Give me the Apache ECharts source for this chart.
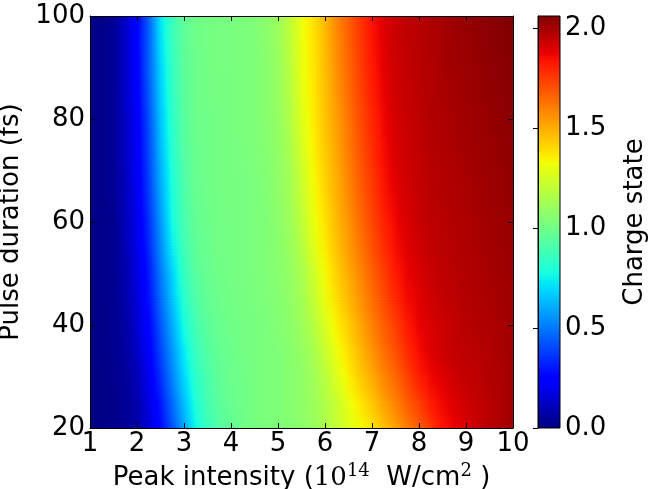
<!DOCTYPE html>
<html><head><meta charset="utf-8">
<script src="https://cdn.jsdelivr.net/npm/echarts@6/dist/echarts.min.js"></script>
<style>html,body{margin:0;padding:0;background:#fff}#c{width:649px;height:489px}</style>
</head><body><div id="c"></div>
<script>
// ---- data ----
const intensity = [1,1.25,1.5,1.75,2,2.25,2.5,2.75,3,3.25,3.5,3.75,4,4.25,4.5,4.75,5,5.25,5.5,5.75,6,6.25,6.5,6.75,7,7.25,7.5,7.75,8,8.25,8.5,8.75,9,9.25,9.5,9.75,10];
const durations = [20,25,30,35,40,50,60,70,80,90,100];
const q20  = [0.00,0.01,0.02,0.04,0.07,0.15,0.27,0.42,0.59,0.76,0.86,0.93,0.97,1.00,1.02,1.03,1.04,1.05,1.07,1.10,1.15,1.21,1.27,1.32,1.37,1.45,1.52,1.60,1.67,1.75,1.83,1.87,1.90,1.93,1.96,1.98,2.00];
const q25  = [0.005,0.01,0.02,0.04,0.08,0.17,0.30,0.47,0.64,0.80,0.89,0.95,0.98,1.00,1.02,1.03,1.04,1.06,1.08,1.11,1.16,1.22,1.30,1.37,1.44,1.52,1.59,1.67,1.74,1.82,1.86,1.89,1.92,1.94,1.96,1.98,2.00];
const q30  = [0.005,0.01,0.02,0.05,0.10,0.20,0.35,0.52,0.69,0.83,0.91,0.96,0.99,1.00,1.02,1.03,1.04,1.06,1.08,1.12,1.18,1.27,1.35,1.43,1.50,1.58,1.65,1.73,1.81,1.86,1.89,1.92,1.94,1.95,1.97,1.98,2.00];
const q35  = [0.01,0.015,0.025,0.055,0.12,0.23,0.39,0.56,0.73,0.86,0.93,0.97,0.99,1.01,1.02,1.03,1.04,1.06,1.09,1.14,1.22,1.31,1.39,1.47,1.55,1.63,1.70,1.78,1.85,1.89,1.92,1.94,1.95,1.96,1.97,1.99,2.00];
const q40  = [0.01,0.015,0.03,0.06,0.14,0.25,0.43,0.60,0.78,0.89,0.95,0.98,1.00,1.01,1.02,1.03,1.05,1.07,1.11,1.17,1.26,1.35,1.43,1.51,1.59,1.67,1.74,1.82,1.87,1.90,1.92,1.94,1.96,1.97,1.98,1.99,2.00];
const q50  = [0.01,0.02,0.03,0.08,0.17,0.30,0.50,0.68,0.85,0.94,0.98,1.00,1.01,1.02,1.03,1.04,1.06,1.09,1.14,1.23,1.33,1.42,1.50,1.58,1.66,1.74,1.82,1.87,1.90,1.93,1.95,1.96,1.97,1.98,1.99,2.00,2.01];
const q60  = [0.01,0.02,0.03,0.10,0.19,0.35,0.56,0.77,0.90,0.97,0.99,1.01,1.01,1.02,1.03,1.04,1.07,1.11,1.19,1.30,1.38,1.47,1.55,1.64,1.72,1.80,1.86,1.90,1.93,1.95,1.96,1.97,1.98,1.99,2.00,2.01,2.02];
const q70  = [0.01,0.02,0.04,0.11,0.21,0.39,0.61,0.80,0.92,0.98,1.00,1.01,1.02,1.02,1.03,1.05,1.08,1.13,1.23,1.33,1.42,1.50,1.59,1.68,1.76,1.84,1.89,1.92,1.94,1.96,1.97,1.98,1.99,2.00,2.01,2.02,2.03];
const q80  = [0.01,0.02,0.04,0.12,0.22,0.41,0.65,0.83,0.94,0.99,1.00,1.01,1.02,1.03,1.04,1.06,1.09,1.16,1.27,1.36,1.45,1.53,1.62,1.71,1.79,1.86,1.91,1.93,1.95,1.97,1.98,1.99,2.00,2.01,2.02,2.03,2.04];
const q90  = [0.01,0.02,0.04,0.13,0.24,0.45,0.68,0.85,0.95,0.99,1.01,1.02,1.02,1.03,1.04,1.06,1.10,1.18,1.30,1.37,1.46,1.56,1.65,1.74,1.82,1.88,1.92,1.94,1.96,1.97,1.99,2.00,2.01,2.02,2.03,2.04,2.05];
const q100 = [0.01,0.02,0.04,0.13,0.25,0.45,0.72,0.87,0.96,1.00,1.01,1.02,1.02,1.03,1.04,1.07,1.11,1.20,1.31,1.38,1.47,1.58,1.67,1.76,1.84,1.89,1.93,1.95,1.96,1.98,1.99,2.01,2.02,2.03,2.04,2.05,2.06];
const chargeRows = [q20,q25,q30,q35,q40,q50,q60,q70,q80,q90,q100];
const xTicks = [1,2,3,4,5,6,7,8,9,10];
const yTicks = [20,40,60,80,100];
const cbTicks = [0,0.5,1.0,1.5,2.0];
const cbRange = [0, 2.06];

// ---- jet colormap ----
const R=[[0,0],[0.35,0],[0.66,1],[0.89,1],[1,0.5]];
const G=[[0,0],[0.125,0],[0.375,1],[0.64,1],[0.91,0],[1,0]];
const B=[[0,0.5],[0.11,1],[0.34,1],[0.65,0],[1,0]];
function interp(p,f){for(let i=1;i<p.length;i++){if(f<=p[i][0]){const a=p[i-1],b=p[i];return a[1]+(b[1]-a[1])*(f-a[0])/(b[0]-a[0]);}}return p[p.length-1][1];}
function jetF(f){f=Math.max(0,Math.min(1,f));return 'rgb('+[R,G,B].map(p=>Math.round(255*interp(p,f))).join(',')+')';}
const cmin = cbRange[0], cmax = cbRange[1];
const breaks = [0.11,0.125,0.34,0.35,0.375,0.64,0.65,0.66,0.89,0.91];

// horizontal gradient for one row of read values, positioned via the x axis scale
function rowGradient(api,row){
  const xa=api.coord([intensity[0],20])[0], xb=api.coord([intensity[intensity.length-1],20])[0];
  const stops=[];
  for(let k=0;k<intensity.length;k++){
    const ok=(api.coord([intensity[k],20])[0]-xa)/(xb-xa);
    const fk=(row[k]-cmin)/(cmax-cmin);
    stops.push({offset:ok,color:jetF(fk)});
    if(k<intensity.length-1){
      const on=(api.coord([intensity[k+1],20])[0]-xa)/(xb-xa);
      const fn=(row[k+1]-cmin)/(cmax-cmin);
      breaks.filter(b=>(b-fk)*(b-fn)<0).sort((a,b)=>(a-b)*(fn-fk)).forEach(b=>{
        stops.push({offset:ok+(on-ok)*(b-fk)/(fn-fk),color:jetF(b)});
      });
    }
  }
  return new echarts.graphic.LinearGradient(0,0,1,0,stops);
}

// one band between two neighbouring read rows
const bands=[];
for(let i=0;i<durations.length-1;i++) bands.push([intensity[0],intensity[intensity.length-1],durations[i],durations[i+1],i]);

function renderBand(params, api){
  const x0=api.value(0),x1=api.value(1),lo=api.value(2),hi=api.value(3),ri=api.value(4);
  const pTop=api.coord([x0,hi]), pBot=api.coord([x1,lo]);
  const w=pBot[0]-pTop[0], h=pBot[1]-pTop[1];
  const gLo=rowGradient(api,chargeRows[ri]), gHi=rowGradient(api,chargeRows[ri+1]);
  const children=[{type:'rect',shape:{x:pTop[0],y:pTop[1]-0.5,width:w,height:h+1},style:{fill:gLo}}];
  const n=Math.max(2,Math.ceil(h/1.5));
  for(let j=0;j<n;j++){
    const y=pTop[1]+h*j/n;
    const t=1-(j+0.5)/n; // weight of upper row
    children.push({type:'rect',shape:{x:pTop[0],y:y,width:w,height:h/n+0.5},style:{fill:gHi,opacity:t}});
  }
  return {type:'group',silent:true,children:children};
}
function renderBar(params, api){
  const p0=api.coord([api.value(0),api.value(3)]), p1=api.coord([api.value(1),api.value(2)]);
  const pts=[0,0.11,0.125,0.34,0.35,0.375,0.64,0.65,0.66,0.89,0.91,1];
  const stops=pts.map(f=>({offset:f,color:jetF(f)}));
  return {type:'rect',silent:true,
    shape:{x:p0[0],y:p0[1],width:p1[0]-p0[0],height:p1[1]-p0[1]},
    style:{fill:new echarts.graphic.LinearGradient(0,1,0,0,stops),stroke:'#000',lineWidth:1}};
}

const FONT='DejaVu Sans';
const axisCommon={axisLine:{show:true,lineStyle:{color:'#000',width:1}},
  axisTick:{show:true,inside:true,length:5,lineStyle:{color:'#000',width:1}},
  splitLine:{show:false}, z:10};
const chart=echarts.init(document.getElementById('c'),null,{renderer:'canvas'});
chart.setOption({
  animation:false,
  backgroundColor:'#fff',
  grid:[{left:90,top:16,width:423,height:412,containLabel:false,outerBoundsMode:'none'},
        {left:538,top:16,width:22,height:412,containLabel:false,outerBoundsMode:'none'}],
  xAxis:[
    Object.assign({},axisCommon,{gridIndex:0,type:'value',min:1,max:10,interval:1,position:'bottom',
      axisLabel:{fontSize:26,color:'#000',fontFamily:FONT,margin:3,customValues:xTicks},
      axisTick:Object.assign({},axisCommon.axisTick,{customValues:xTicks}),
      name:'{a|Peak intensity (}{m|10}{s|14}{a|  W/cm}{s|2}{a| )}',nameLocation:'middle',nameGap:26,
      nameTextStyle:{rich:{
        a:{fontSize:26,fontFamily:FONT,color:'#000'},
        m:{fontSize:26,fontFamily:'DejaVu Serif',color:'#000'},
        s:{fontSize:18,fontFamily:'DejaVu Serif',color:'#000',padding:[0,0,14,0]}}}}),
    Object.assign({},axisCommon,{gridIndex:0,type:'value',min:1,max:10,interval:1,position:'top',axisLabel:{show:false}}),
    {gridIndex:1,type:'value',min:0,max:1,show:false}
  ],
  yAxis:[
    Object.assign({},axisCommon,{gridIndex:0,type:'value',min:20,max:100,interval:20,position:'left',
      axisLabel:{fontSize:26,color:'#000',fontFamily:FONT,margin:5,customValues:yTicks},
      name:'Pulse duration (fs)',nameLocation:'middle',nameGap:55,nameRotate:90,
      nameTextStyle:{fontSize:26,fontFamily:FONT,color:'#000'}}),
    Object.assign({},axisCommon,{gridIndex:0,type:'value',min:20,max:100,interval:20,position:'right',axisLabel:{show:false}}),
    Object.assign({},axisCommon,{gridIndex:1,type:'value',min:cbRange[0],max:cbRange[1],position:'right',
      axisTick:{show:true,inside:true,length:5,lineStyle:{color:'#000'},customValues:cbTicks},
      axisLabel:{fontSize:26,color:'#000',fontFamily:FONT,margin:5,customValues:cbTicks,formatter:v=>v.toFixed(1)},
      name:'Charge state',nameLocation:'middle',nameGap:62,nameRotate:90,
      nameTextStyle:{fontSize:26,fontFamily:FONT,color:'#000'}})
  ],
  series:[
    {type:'custom',xAxisIndex:0,yAxisIndex:0,data:bands,renderItem:renderBand,encode:{x:[0,1],y:[2,3]},z:2,clip:true},
    {type:'custom',xAxisIndex:2,yAxisIndex:2,data:[[0,1,cbRange[0],cbRange[1]]],renderItem:renderBar,encode:{x:[0,1],y:[2,3]},z:2}
  ]
});
</script></body></html>
